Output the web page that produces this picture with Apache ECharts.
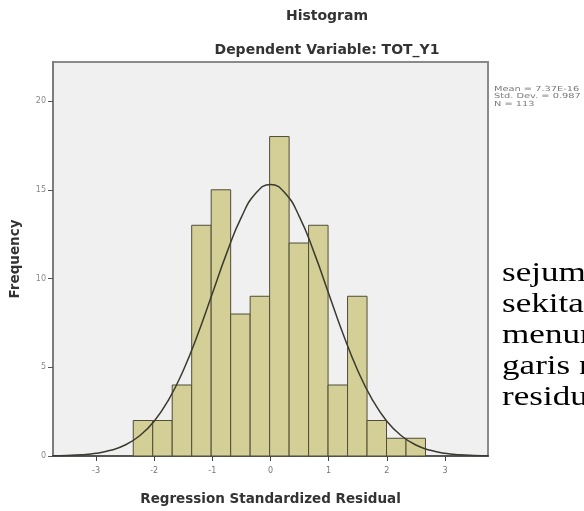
<!DOCTYPE html>
<html>
<head>
<meta charset="utf-8">
<script src="https://cdn.jsdelivr.net/npm/echarts@6/dist/echarts.min.js"></script>
<style>
html,body{margin:0;padding:0;background:#fff;}
#chart{width:584px;height:511px;}
</style>
</head>
<body>
<div id="chart"></div>
<script>
// ---- data ----
var binStart = -2.36;          // lower edge of first bin
var binWidth = 0.335;          // bin width
var counts = [2, 2, 4, 13, 15, 8, 9, 18, 12, 13, 4, 9, 2, 1, 1];
// normal curve, x positions and heights
var curveX = [-3.75,-3.5,-3.25,-3,-2.75,-2.5,-2.25,-2,-1.75,-1.5,-1.25,-1,-0.75,-0.5,-0.25,0,0.25,0.5,0.75,1,1.25,1.5,1.75,2,2.25,2.5,2.75,3,3.25,3.5,3.75];
var curveY = [0.01,0.03,0.07,0.15,0.32,0.62,1.14,1.96,3.18,4.82,6.86,9.16,11.46,13.46,14.82,15.30,14.82,13.46,11.46,9.16,6.86,4.82,3.18,1.96,1.14,0.62,0.32,0.15,0.07,0.03,0.01];
var xTicks = [-3, -2, -1, 0, 1, 2, 3];
var yTicks = [0, 5, 10, 15, 20];
var statsLines = ['Mean = 7.37E-16', 'Std. Dev. = 0.987', 'N = 113'];
var sideText = ['sejum', 'sekita', 'menun', 'garis n', 'residu'];

var barData = counts.map(function (c, i) {
  return [binStart + i * binWidth, binStart + (i + 1) * binWidth, c];
});
var curveData = curveX.map(function (x, i) { return [x, curveY[i]]; });

var chart = echarts.init(document.getElementById('chart'), null, {renderer: 'canvas'});
var sans = 'DejaVu Sans';

var graphics = [{
  type: 'text', x: 494, y: 85, scaleX: 1.4, scaleY: 1,
  style: {text: statsLines.join('\n'), font: '7px "DejaVu Sans"', fill: '#7a7a7a',
          lineHeight: 7.5, verticalAlign: 'top', align: 'left'}
}];
sideText.forEach(function (t, i) {
  graphics.push({
    type: 'text', x: 502, y: 287 + i * 31, scaleX: 1.3, scaleY: 1,
    style: {text: t, font: '27px "Liberation Serif"', fill: '#000',
            verticalAlign: 'bottom', align: 'left', lineHeight: 27}
  });
});

var option = {
  backgroundColor: '#ffffff',
  animation: false,
  title: [
    {text: 'Histogram', left: 322, top: 4, textAlign: 'center',
     textStyle: {fontFamily: sans, fontSize: 14, fontWeight: 'bold', color: '#333'}},
    {text: 'Dependent Variable: TOT_Y1', left: 322, top: 38, textAlign: 'center',
     textStyle: {fontFamily: sans, fontSize: 14, fontWeight: 'bold', color: '#333'}}
  ],
  grid: {left: 52, right: 96, top: 62, bottom: 51, show: true,
         backgroundColor: '#f0f0f0', borderColor: '#8a8a8a', borderWidth: 2},
  xAxis: {
    type: 'value', min: -3.74, max: 3.74,
    name: 'Regression Standardized Residual', nameLocation: 'middle', nameGap: 36,
    nameTextStyle: {fontFamily: sans, fontSize: 13.5, fontWeight: 'bold', color: '#333'},
    axisLine: {show: true, onZero: false, lineStyle: {color: '#444', width: 1.5}},
    axisTick: {show: true, length: 5, customValues: xTicks, lineStyle: {color: '#444'}},
    axisLabel: {customValues: xTicks, fontFamily: sans, fontSize: 8, color: '#777', margin: 11},
    splitLine: {show: false}
  },
  yAxis: {
    type: 'value', min: 0, max: 22.2,
    name: 'Frequency', nameLocation: 'middle', nameGap: 31, nameRotate: 90,
    nameTextStyle: {fontFamily: sans, fontSize: 13.5, fontWeight: 'bold', color: '#333'},
    axisLine: {show: true, onZero: false, lineStyle: {color: '#777', width: 1.5}},
    axisTick: {show: true, length: 5, customValues: yTicks, lineStyle: {color: '#555'}},
    axisLabel: {customValues: yTicks, fontFamily: sans, fontSize: 8, color: '#888', margin: 7},
    splitLine: {show: false}
  },
  series: [
    {
      type: 'custom',
      data: barData,
      encode: {x: [0, 1], y: 2},
      z: 2,
      renderItem: function (params, api) {
        var p0 = api.coord([api.value(0), api.value(2)]);
        var p1 = api.coord([api.value(1), 0]);
        return {
          type: 'rect',
          shape: {x: p0[0], y: p0[1], width: p1[0] - p0[0], height: p1[1] - p0[1]},
          style: {fill: '#d4cf96', stroke: '#4f4d38', lineWidth: 1}
        };
      }
    },
    {
      type: 'line', data: curveData, smooth: true, showSymbol: false, symbol: 'none',
      z: 3, lineStyle: {color: '#3a3a30', width: 1.5}
    }
  ],
  graphic: graphics
};
chart.setOption(option);
</script>
</body>
</html>
